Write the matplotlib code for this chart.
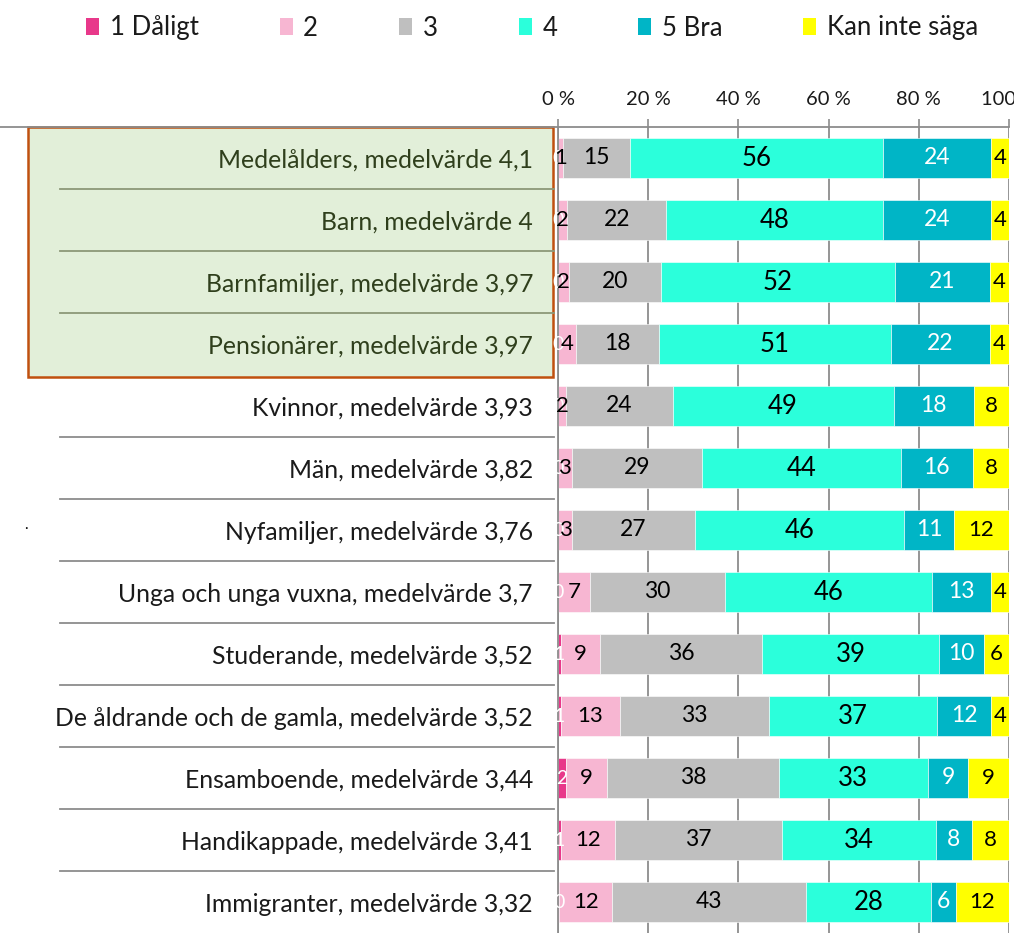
import matplotlib.pyplot as plt
from matplotlib.patches import Patch, Rectangle

plt.rcParams['font.family'] = ['Lato', 'DejaVu Sans']

groups = ["Medelålders, medelvärde 4,1", "Barn, medelvärde 4",
          "Barnfamiljer, medelvärde 3,97", "Pensionärer, medelvärde 3,97",
          "Kvinnor, medelvärde 3,93", "Män, medelvärde 3,82",
          "Nyfamiljer, medelvärde 3,76", "Unga och unga vuxna, medelvärde 3,7",
          "Studerande, medelvärde 3,52", "De åldrande och de gamla, medelvärde 3,52",
          "Ensamboende, medelvärde 3,44", "Handikappade, medelvärde 3,41",
          "Immigranter, medelvärde 3,32"]
series_names = ["1 Dåligt", "2", "3", "4", "5 Bra", "Kan inte säga"]
# percentages (labels show them rounded)
v1 = [0, 0, 0, 0, 0, 0, 0, 0, 0.6, 0.6, 1.7, 0.6, 0.3]
v2 = [1, 2, 2.4, 4.0, 1.8, 3, 3.1, 7, 8.8, 13.2, 9.2, 12.0, 11.7]
v3 = [15, 22, 20.4, 18.4, 23.6, 29, 27.3, 30, 35.8, 33.0, 38.0, 37.0, 43.0]
v4 = [56, 48, 51.9, 51.4, 49.0, 44, 46.3, 46, 39.3, 37.2, 33.1, 34.2, 27.6]
v5 = [24, 24, 21.1, 22.0, 17.8, 16, 11.1, 13, 9.9, 12.0, 9.0, 8.0, 5.6]
v6 = [4, 4, 4.2, 4.2, 7.8, 8, 12.2, 4, 5.6, 4.0, 9.0, 8.2, 11.8]
highlighted = 4

colors = ['#E8388A', '#F7B6D2', '#BFBFBF', '#2BFFDB', '#00B5C6', '#FFFF00']
text_colors = ['white', 'black', 'black', 'black', 'white', 'black']
label_sizes = [14, 16, 16.5, 18.5, 16.5, 16]
grid_col = '#8C8C8C'

W, H = 1014, 933
fig = plt.figure(figsize=(W / 100, H / 100), dpi=100)
ax = fig.add_axes([558 / W, 0, 451 / W, 1 - 127 / H])

ypos = list(range(len(groups)))
left = [0] * len(groups)
for vals, col, tc, fs in zip([v1, v2, v3, v4, v5, v6], colors, text_colors, label_sizes):
    ax.barh(ypos, vals, left=left, height=0.66, color=col, edgecolor='white',
            linewidth=0.4, zorder=2)
    for yi, v, l in zip(ypos, vals, left):
        ax.text(l + v / 2, yi, str(int(v + 0.5)), ha='center', va='center', color=tc,
                fontsize=fs, zorder=4, clip_on=False)
    left = [a + b for a, b in zip(left, vals)]

ax.set_xlim(0, 100)
ax.set_ylim(len(groups) - 0.5, -0.5)
ax.xaxis.tick_top()
ax.set_xticks(range(0, 101, 20), [f"{t} %" for t in range(0, 101, 20)])
ax.tick_params(axis='x', length=6, width=1.2, color=grid_col, pad=8,
               labelsize=14.5, labelcolor='#1a1a1a')
ax.grid(axis='x', color=grid_col, linewidth=1.3, zorder=1)
ax.set_axisbelow(True)
for s in ['right', 'bottom']:
    ax.spines[s].set_visible(False)
for s in ['top', 'left']:
    ax.spines[s].set_color(grid_col)
    ax.spines[s].set_linewidth(1.3)

ax.set_yticks(ypos, groups)
ax.tick_params(axis='y', length=0, pad=18, labelsize=17.8, labelcolor='#1a1a1a')
for i, t in enumerate(ax.get_yticklabels()):
    if i < highlighted:
        t.set_color('#2F3F1C')

tr = ax.get_yaxis_transform()
x0 = (60 - 558) / 451
ax.add_patch(Rectangle(((28 - 558) / 451, -0.5), (553 - 28) / 451, highlighted + 0.03,
                       transform=tr, clip_on=False, facecolor='#E2EFD9',
                       edgecolor='#C0500F', linewidth=1.8, zorder=0))
ax.plot([-558 / 451, 0], [-0.5, -0.5], transform=tr, clip_on=False,
        color=grid_col, linewidth=1.3)
for b in range(len(groups) - 1):
    yb = b + 0.5
    if yb == highlighted - 0.5:
        continue
    col = '#8C9878' if yb < highlighted else grid_col
    ax.plot([x0, -0.008], [yb, yb], transform=tr, clip_on=False,
            color=col, linewidth=1.3, zorder=1)

fig.text(26 / W, 1 - 532 / H, '.', fontsize=11, ha='center', va='bottom', color='black')

handles = [Patch(facecolor=c, edgecolor='none') for c in colors]
fig.legend(handles, series_names, loc='center', bbox_to_anchor=(532 / W, 1 - 28 / H),
           ncol=6, frameon=False, fontsize=18.5, handlelength=0.52, handleheight=0.68,
           handletextpad=0.4, columnspacing=3.15, labelcolor='#1a1a1a')

fig.savefig('out.png', dpi=100)
